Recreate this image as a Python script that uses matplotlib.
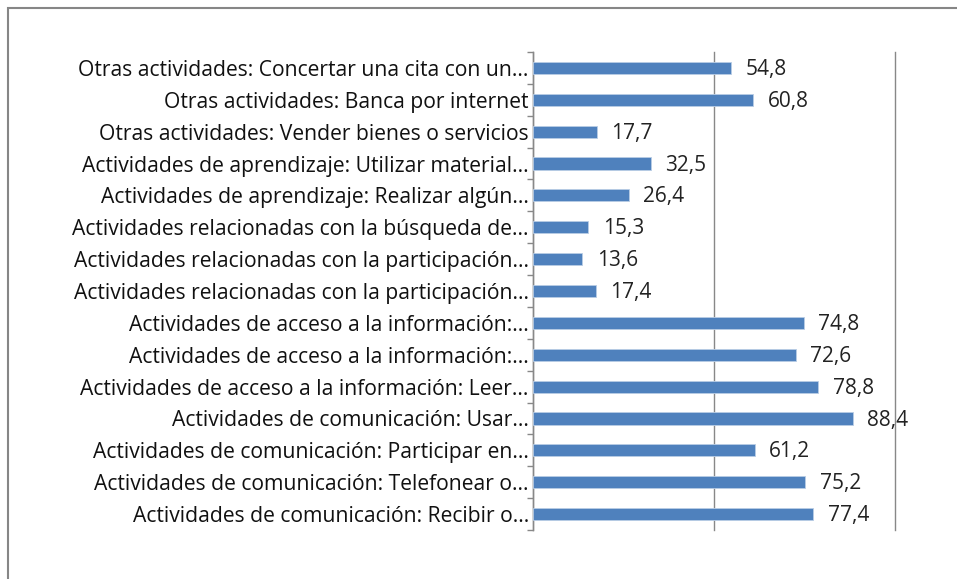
import matplotlib
matplotlib.use("Agg")
import matplotlib.pyplot as plt
from matplotlib.patches import Rectangle

categories = [
    "Actividades de comunicación: Recibir o...",
    "Actividades de comunicación: Telefonear o...",
    "Actividades de comunicación: Participar en...",
    "Actividades de comunicación: Usar...",
    "Actividades de acceso a la información: Leer...",
    "Actividades de acceso a la información:...",
    "Actividades de acceso a la información:...",
    "Actividades relacionadas con la participación...",
    "Actividades relacionadas con la participación...",
    "Actividades relacionadas con la búsqueda de...",
    "Actividades de aprendizaje: Realizar algún...",
    "Actividades de aprendizaje: Utilizar material...",
    "Otras actividades: Vender bienes o servicios",
    "Otras actividades: Banca por internet",
    "Otras actividades: Concertar una cita con un...",
]
values = [77.4, 75.2, 61.2, 88.4, 78.8, 72.6, 74.8, 17.4, 13.6, 15.3, 26.4, 32.5, 17.7, 60.8, 54.8]
x_ticks = [0, 50, 100]

plt.rcParams['font.family'] = ['Open Sans', 'DejaVu Sans']

fig = plt.figure(figsize=(9.57, 5.79), dpi=100)
fig.patches.append(Rectangle((8/957, -0.1), 1.2, 1 - 8/579 + 0.1, transform=fig.transFigure,
                             fill=False, edgecolor='#868686', linewidth=1.5))

ax = fig.add_axes([533/957, 1 - 530/579, (895 - 533)/957, (530 - 52)/579])
n = len(categories)
pos = list(range(n))
ax.barh(pos, values, height=0.38, color='#4F81BD', edgecolor='#B9CDE5', linewidth=0.6, zorder=3)
for p, v in zip(pos, values):
    ax.text(v + 4.0, p - 0.05, f"{v:.1f}".replace('.', ','), va='center', ha='left', fontsize=15, color='#222222')

ax.set_xlim(0, 100)
ax.set_ylim(-0.5, n - 0.5)
ax.set_xticks(x_ticks)
ax.xaxis.grid(True, color='#888888', linewidth=1, zorder=0)
for gl in ax.get_xgridlines():
    gl.set_clip_on(False)
ax.tick_params(axis='x', bottom=False, labelbottom=False)
ax.set_yticks(pos)
ax.set_yticklabels(categories, fontsize=15.2, color='#111111')
ax.tick_params(axis='y', which='major', length=0, pad=3)
ax.set_yticks([i - 0.5 for i in range(n + 1)], minor=True)
ax.tick_params(axis='y', which='minor', length=4, color='#888888', width=1)
for s in ['top', 'right', 'bottom']:
    ax.spines[s].set_visible(False)
ax.spines['left'].set_color('#888888')
ax.spines['left'].set_linewidth(1)

fig.savefig("out.png", dpi=100)
